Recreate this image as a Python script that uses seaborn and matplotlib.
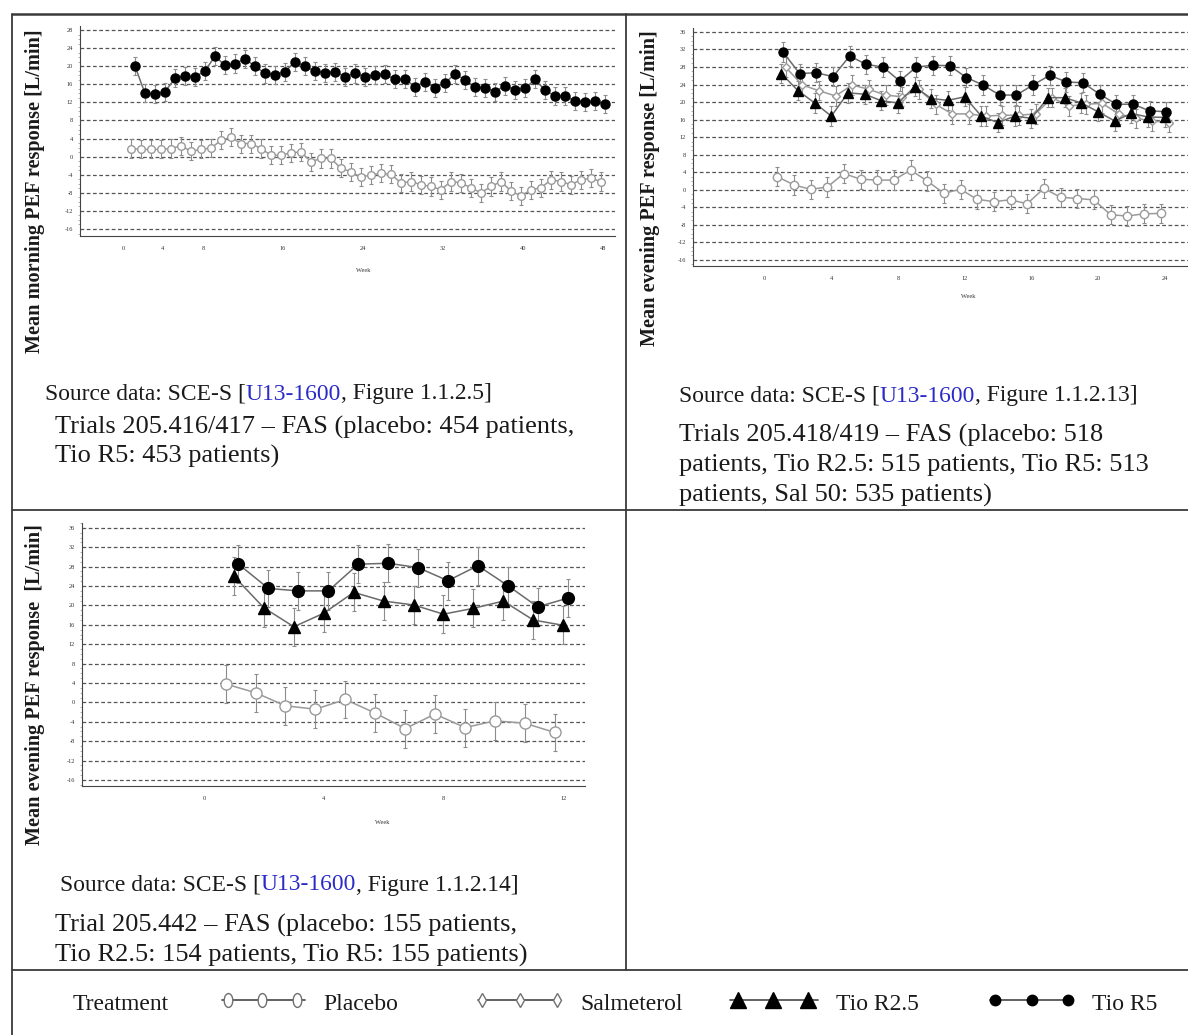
import matplotlib
matplotlib.use("Agg")
import matplotlib.pyplot as plt
from matplotlib.lines import Line2D
from matplotlib.text import Annotation
from matplotlib.path import Path
from matplotlib.transforms import Affine2D
from matplotlib.ticker import MultipleLocator
import pandas as pd
import seaborn as sns

# ---------------- data ----------------
# Trials 205.416/417 : mean morning PEF response by week
WEEKS_416 = list(range(1, 49))
PLACEBO_416 = [1.8, 1.6, 1.6, 1.6, 1.8, 2.4, 1.2, 1.6, 1.9, 3.6, 4.3, 2.9,
               2.9, 1.8, 0.3, 0.3, 0.9, 1.0, -1.1, -0.4, -0.4, -2.6, -3.3, -4.6,
               -4.0, -3.7, -3.9, -5.8, -5.5, -6.2, -6.6, -7.3, -5.5, -5.8, -6.9, -8.0,
               -6.6, -5.5, -7.6, -8.7, -7.3, -6.9, -5.1, -5.5, -6.2, -5.1, -4.8, -5.5]
TIO5_416 = [20.0, 14.0, 13.8, 14.4, 17.3, 17.9, 17.6, 19.0, 22.2, 20.2, 20.6, 21.6,
            20.0, 18.4, 18.1, 18.8, 21.0, 20.0, 18.9, 18.6, 18.8, 17.7, 18.4, 17.7,
            18.1, 18.2, 17.1, 17.2, 15.4, 16.6, 15.2, 16.3, 18.3, 17.0, 15.4, 15.2,
            14.4, 15.7, 14.8, 15.1, 17.1, 14.7, 13.4, 13.4, 12.3, 12.1, 12.3, 11.6]
SE_416 = 2.0

# Trials 205.418/419 : mean evening PEF response by week
WEEKS_418 = list(range(1, 25))
PLACEBO_418 = [3.0, 1.1, 0.1, 0.6, 3.7, 2.4, 2.2, 2.2, 4.5, 2.0, -0.8, 0.1,
               -2.2, -2.7, -2.3, -3.2, 0.3, -1.7, -2.0, -2.3, -5.7, -6.0, -5.5, -5.4]
SALM_418 = [28.0, 23.9, 22.6, 21.4, 23.9, 22.9, 21.6, 21.2, 22.9, 19.5, 17.3, 17.3,
            16.8, 17.0, 17.0, 17.3, 21.0, 19.1, 19.5, 19.7, 17.3, 16.3, 15.7, 15.3]
TIO25_418 = [26.5, 22.6, 19.8, 16.8, 22.1, 21.8, 20.3, 19.8, 23.5, 20.8, 20.4, 21.2,
             16.8, 15.3, 16.8, 16.3, 21.0, 21.0, 19.8, 17.8, 15.7, 17.4, 16.6, 16.5]
TIO5_418 = [31.4, 26.5, 26.7, 25.8, 30.5, 28.6, 28.0, 24.8, 28.0, 28.4, 28.3, 25.6,
            23.9, 21.6, 21.6, 23.9, 26.1, 24.6, 24.4, 21.8, 19.5, 19.5, 18.0, 17.8]
SE_418 = 2.2

# Trial 205.442 : mean evening PEF response by week
WEEKS_442 = list(range(1, 13))
PLACEBO_442 = [3.8, 2.0, -0.7, -1.4, 0.6, -2.2, -5.4, -2.4, -5.2, -3.8, -4.3, -6.2]
TIO25_442 = [26.0, 19.5, 15.6, 18.4, 22.7, 20.9, 20.1, 18.2, 19.4, 20.9, 17.0, 15.9]
TIO5_442 = [28.5, 23.5, 23.0, 23.0, 28.5, 28.7, 27.8, 25.1, 28.2, 24.1, 19.7, 21.5]
SE_442 = 3.9

TREATMENTS = ["Placebo", "Salmeterol", "Tio R2.5", "Tio R5"]

# ---------------- style ----------------
sns.set_style("white")
plt.rcParams["font.family"] = ["Liberation Serif", "DejaVu Serif"]

W, H = 1188, 1035
fig = plt.figure(figsize=(W / 100, H / 100), dpi=100)
fig.patch.set_facecolor("white")

SERIF = "Liberation Serif"
BLUE = "#2a2ac8"
BORDER = "#3a3a3a"
INK = "#1a1a1a"

STYLE = {
    "Placebo":    dict(marker="o", mfc="white", mec="#9a9a9a", color="#9a9a9a"),
    "Salmeterol": dict(marker="D", mfc="white", mec="#9a9a9a", color="#9a9a9a"),
    "Tio R2.5":   dict(marker="^", mfc="black", mec="black", color="#6a6a6a"),
    "Tio R5":     dict(marker="o", mfc="black", mec="black", color="#6a6a6a"),
}
MSIZE = {"Placebo": 1.0, "Salmeterol": 0.75, "Tio R2.5": 1.05, "Tio R5": 1.0}


def px_axes(x0, y0, x1, y1):
    return fig.add_axes([x0 / W, 1 - y1 / H, (x1 - x0) / W, (y1 - y0) / H])


def fx(x):
    return x / W


def fy(y):
    return 1 - y / H


def series(ax, weeks, values, name, shift, se, ms):
    df = pd.DataFrame({"Week": [w + shift for w in weeks], "PEF": values})
    st = STYLE[name]
    ax.errorbar(df["Week"], df["PEF"], yerr=se, fmt="none", ecolor="#8c8c8c",
                elinewidth=0.8, capsize=1.6, capthick=0.8, zorder=2)
    sns.lineplot(data=df, x="Week", y="PEF", ax=ax, color=st["color"], lw=1.1,
                 marker=st["marker"], markersize=ms * MSIZE[name],
                 markerfacecolor=st["mfc"], mec=st["mec"], mew=1.0,
                 errorbar=None, zorder=3)


def style_axes(ax, xlim, ylim, yticks, xticks, xlabels, week_xy):
    ax.set_xlim(*xlim)
    ax.set_ylim(*ylim)
    ax.set_yticks(yticks)
    ax.set_yticklabels([str(v) for v in yticks])
    ax.yaxis.set_minor_locator(MultipleLocator(1))
    ax.set_xticks(xticks)
    ax.set_xticklabels(xlabels)
    ax.xaxis.set_minor_locator(MultipleLocator(1))
    for side in ("top", "right"):
        ax.spines[side].set_visible(False)
    for side in ("left", "bottom"):
        ax.spines[side].set_color("#444444")
        ax.spines[side].set_linewidth(0.8)
    ax.tick_params(axis="both", which="major", direction="out", length=2.2, width=0.6,
                   color="#555555", labelsize=4.6, labelcolor="#333333")
    ax.tick_params(axis="y", which="minor", direction="out", length=1.2, width=0.4,
                   color="#777777", left=True)
    ax.tick_params(axis="x", which="minor", bottom=False)
    ax.tick_params(axis="x", which="major", pad=5)
    ax.tick_params(axis="y", which="major", pad=3)
    ax.yaxis.grid(True, which="major", linestyle=(0, (3, 2)), color="#555555", lw=0.9)
    ax.xaxis.grid(False)
    ax.set_axisbelow(True)
    ax.set_xlabel("Week", fontsize=4.6, color="#333333")
    ax.xaxis.set_label_coords(*week_xy)
    ax.set_ylabel("")
    ax.set_facecolor("white")


# ---------------- panel 1 : 205.416/417 ----------------
ax1 = px_axes(80, 26, 615, 236)
series(ax1, WEEKS_416, PLACEBO_416, "Placebo", -0.2, SE_416, 5.5)
series(ax1, WEEKS_416, TIO5_416, "Tio R5", 0.2, SE_416, 6.5)
style_axes(ax1, (-4.3, 49.2), (-17.55, 28.9), list(range(-16, 29, 4)),
           list(range(-4, 49, 4)),
           ["", "0", "4", "8", "", "16", "", "24", "", "32", "", "40", "", "48"],
           (0.529, -0.152))

# ---------------- panel 2 : 205.418/419 ----------------
ax2 = px_axes(693, 28, 1188, 266)
series(ax2, WEEKS_418, PLACEBO_418, "Placebo", -0.25, SE_418, 6.0)
series(ax2, WEEKS_418, SALM_418, "Salmeterol", 0.25, SE_418, 6.0)
series(ax2, WEEKS_418, TIO25_418, "Tio R2.5", 0.0, SE_418, 6.5)
series(ax2, WEEKS_418, TIO5_418, "Tio R5", 0.1, SE_418, 6.5)
style_axes(ax2, (-4.3, 25.4), (-17.4, 36.9), list(range(-16, 37, 4)),
           list(range(-4, 25, 4)),
           ["", "0", "4", "8", "12", "16", "20", "24"],
           (0.556, -0.118))

# ---------------- panel 3 : 205.442 ----------------
ax3 = px_axes(82, 523, 585, 786)
series(ax3, WEEKS_442, PLACEBO_442, "Placebo", -0.28, SE_442, 8.0)
series(ax3, WEEKS_442, TIO25_442, "Tio R2.5", 0.0, SE_442, 8.5)
series(ax3, WEEKS_442, TIO5_442, "Tio R5", 0.15, SE_442, 8.5)
style_axes(ax3, (-4.08, 12.73), (-17.24, 37.0), list(range(-16, 37, 4)),
           list(range(-4, 13, 4)),
           ["", "0", "4", "8", "12"],
           (0.596, -0.129))

# ---------------- y axis titles ----------------
YLAB = dict(rotation=90, ha="center", va="center", fontsize=14.6,
            fontweight="bold", family=SERIF, color=INK)
fig.text(fx(35), fy(191), "Mean morning PEF response [L/min]", **YLAB)
fig.text(fx(650), fy(188), "Mean evening PEF response [L/min]", **YLAB)
fig.text(fx(35), fy(685), "Mean evening PEF response  [L/min]", **YLAB)


# ---------------- captions ----------------
def rich_line(x, y, parts, size):
    prev = None
    for s, c in parts:
        if prev is None:
            t = fig.text(fx(x), fy(y), s, color=c, fontsize=size, family=SERIF,
                         ha="left", va="center")
        else:
            t = Annotation(s, xy=(1, 0), xycoords=prev, ha="left", va="bottom",
                           color=c, fontsize=size, family=SERIF)
            fig.add_artist(t)
        prev = t


SRC = 16.9
TRI = 19.0
rich_line(45, 394, [("Source data: SCE-S [", INK), ("U13-1600", BLUE),
                    (", Figure 1.1.2.5]", INK)], SRC)
fig.text(fx(55), fy(427), "Trials 205.416/417 \u2013 FAS (placebo: 454 patients,",
         fontsize=TRI, family=SERIF, va="center", color=INK)
fig.text(fx(55), fy(456), "Tio R5: 453 patients)",
         fontsize=TRI, family=SERIF, va="center", color=INK)

rich_line(679, 396, [("Source data: SCE-S [", INK), ("U13-1600", BLUE),
                     (", Figure 1.1.2.13]", INK)], SRC)
for yy, line in [(435, "Trials 205.418/419 \u2013 FAS (placebo: 518"),
                 (465, "patients, Tio R2.5: 515 patients, Tio R5: 513"),
                 (495, "patients, Sal 50: 535 patients)")]:
    fig.text(fx(679), fy(yy), line, fontsize=TRI, family=SERIF, va="center",
             color=INK)

rich_line(60, 885, [("Source data: SCE-S [", INK), ("U13-1600", BLUE),
                    (", Figure 1.1.2.14]", INK)], SRC)
fig.text(fx(55), fy(925), "Trial 205.442 \u2013 FAS (placebo: 155 patients,",
         fontsize=TRI, family=SERIF, va="center", color=INK)
fig.text(fx(55), fy(955), "Tio R2.5: 154 patients, Tio R5: 155 patients)",
         fontsize=TRI, family=SERIF, va="center", color=INK)


# ---------------- table rules ----------------
def rule(x0, y0, x1, y1, lw=1.3):
    fig.add_artist(Line2D([fx(x0), fx(x1)], [fy(y0), fy(y1)], color=BORDER,
                          lw=lw, transform=fig.transFigure))


rule(12, 14, 1188, 14, lw=1.8)
rule(12, 14, 12, 1035)
rule(626, 14, 626, 970)
rule(12, 510, 1188, 510)
rule(12, 970, 1188, 970)

# ---------------- treatment key ----------------
lax = px_axes(12, 972, 1188, 1035)
lax.set_xlim(12, 1188)
lax.set_ylim(1035, 972)
lax.axis("off")
ellipse = Path.unit_circle().transformed(Affine2D().scale(0.62, 1.0))
keys = [
    ("Placebo", (222, 305), (228, 262, 297), ellipse, 10, "white", "#707070", 323),
    ("Salmeterol", (478, 560), (482, 520, 557), "d", 7, "white", "#707070", 580),
    ("Tio R2.5", (730, 818), (738, 773, 808), "^", 12, "black", "black", 836),
    ("Tio R5", (990, 1072), (995, 1032, 1068), "o", 7.5, "black", "black", 1092),
]
lax.text(73, 1004, "Treatment", fontsize=17, family=SERIF, va="center",
         ha="left", color=INK)
for name, (l0, l1), mx, mk, ms, fc, ec, tx in keys:
    lax.plot([l0, l1], [1000, 1000], color="#555555", lw=1.3)
    lax.plot(list(mx), [1000] * 3, linestyle="none", marker=mk, markersize=ms,
             mfc=fc, mec=ec, mew=1.0)
    lax.text(tx, 1004, name, fontsize=17, family=SERIF, va="center", ha="left",
             color=INK)

fig.savefig("out.png", dpi=100, facecolor="white")
